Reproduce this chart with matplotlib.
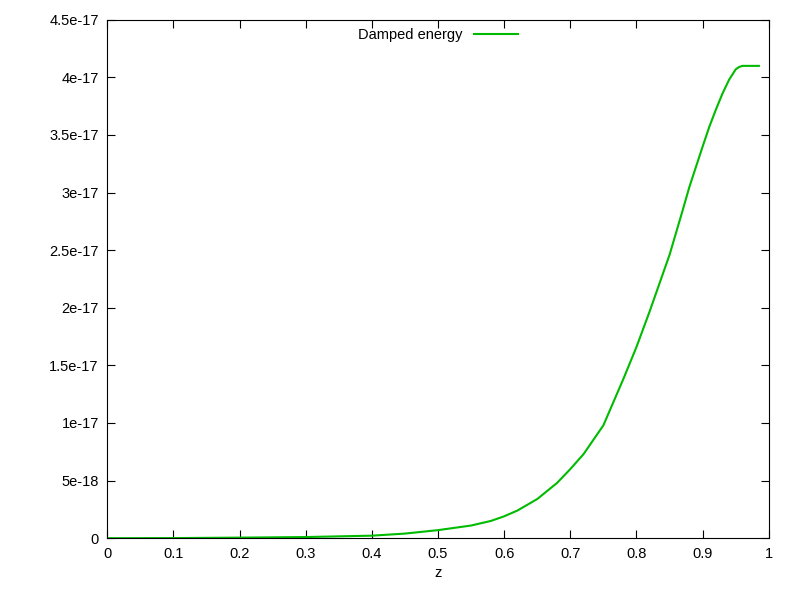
import matplotlib
matplotlib.use("Agg")
import matplotlib.pyplot as plt

z = [0.0, 0.1, 0.2, 0.3, 0.4, 0.45, 0.5, 0.55, 0.58, 0.6, 0.62, 0.65, 0.68, 0.7, 0.72, 0.75, 0.78, 0.8, 0.82,
     0.85, 0.87, 0.88, 0.9, 0.91, 0.92, 0.93, 0.94, 0.95, 0.955, 0.96, 0.97, 0.985]
energy = [0.0, 1e-20, 5e-20, 1e-19, 2.2e-19, 4e-19, 7e-19, 1.1e-18, 1.5e-18, 1.9e-18, 2.4e-18, 3.4e-18, 4.8e-18,
          6.0e-18, 7.3e-18, 9.8e-18, 1.38e-17, 1.66e-17, 1.97e-17, 2.46e-17, 2.85e-17, 3.05e-17, 3.4e-17,
          3.57e-17, 3.72e-17, 3.86e-17, 3.98e-17, 4.07e-17, 4.09e-17, 4.1e-17, 4.1e-17, 4.1e-17]
xticks = [0, 0.1, 0.2, 0.3, 0.4, 0.5, 0.6, 0.7, 0.8, 0.9, 1]
xlabels = ["0", "0.1", "0.2", "0.3", "0.4", "0.5", "0.6", "0.7", "0.8", "0.9", "1"]
yticks = [0, 5e-18, 1e-17, 1.5e-17, 2e-17, 2.5e-17, 3e-17, 3.5e-17, 4e-17, 4.5e-17]
ylabels = ["0", "5e-18", "1e-17", "1.5e-17", "2e-17", "2.5e-17", "3e-17", "3.5e-17", "4e-17", "4.5e-17"]

plt.rcParams['font.family'] = ['Liberation Sans', 'DejaVu Sans']
fig = plt.figure(figsize=(8, 6), dpi=100)
ax = fig.add_axes([0.134, 0.103, 0.827, 0.864])
ax.plot(z, energy, color="#00bb00", lw=1.5, label="Damped energy")
ax.set_xlim(0, 1)
ax.set_ylim(0, 4.5e-17)
ax.set_xticks(xticks, xlabels)
ax.set_yticks(yticks, ylabels)
ax.tick_params(direction="in", top=True, right=True, labelsize=10.5, length=6, pad=6)
ax.set_xlabel("z", fontsize=10.5)
leg = ax.legend(loc="upper center", frameon=False, markerfirst=False, fontsize=10.5,
                handlelength=3, bbox_to_anchor=(0.5, 1.01))
fig.savefig("out.png")
